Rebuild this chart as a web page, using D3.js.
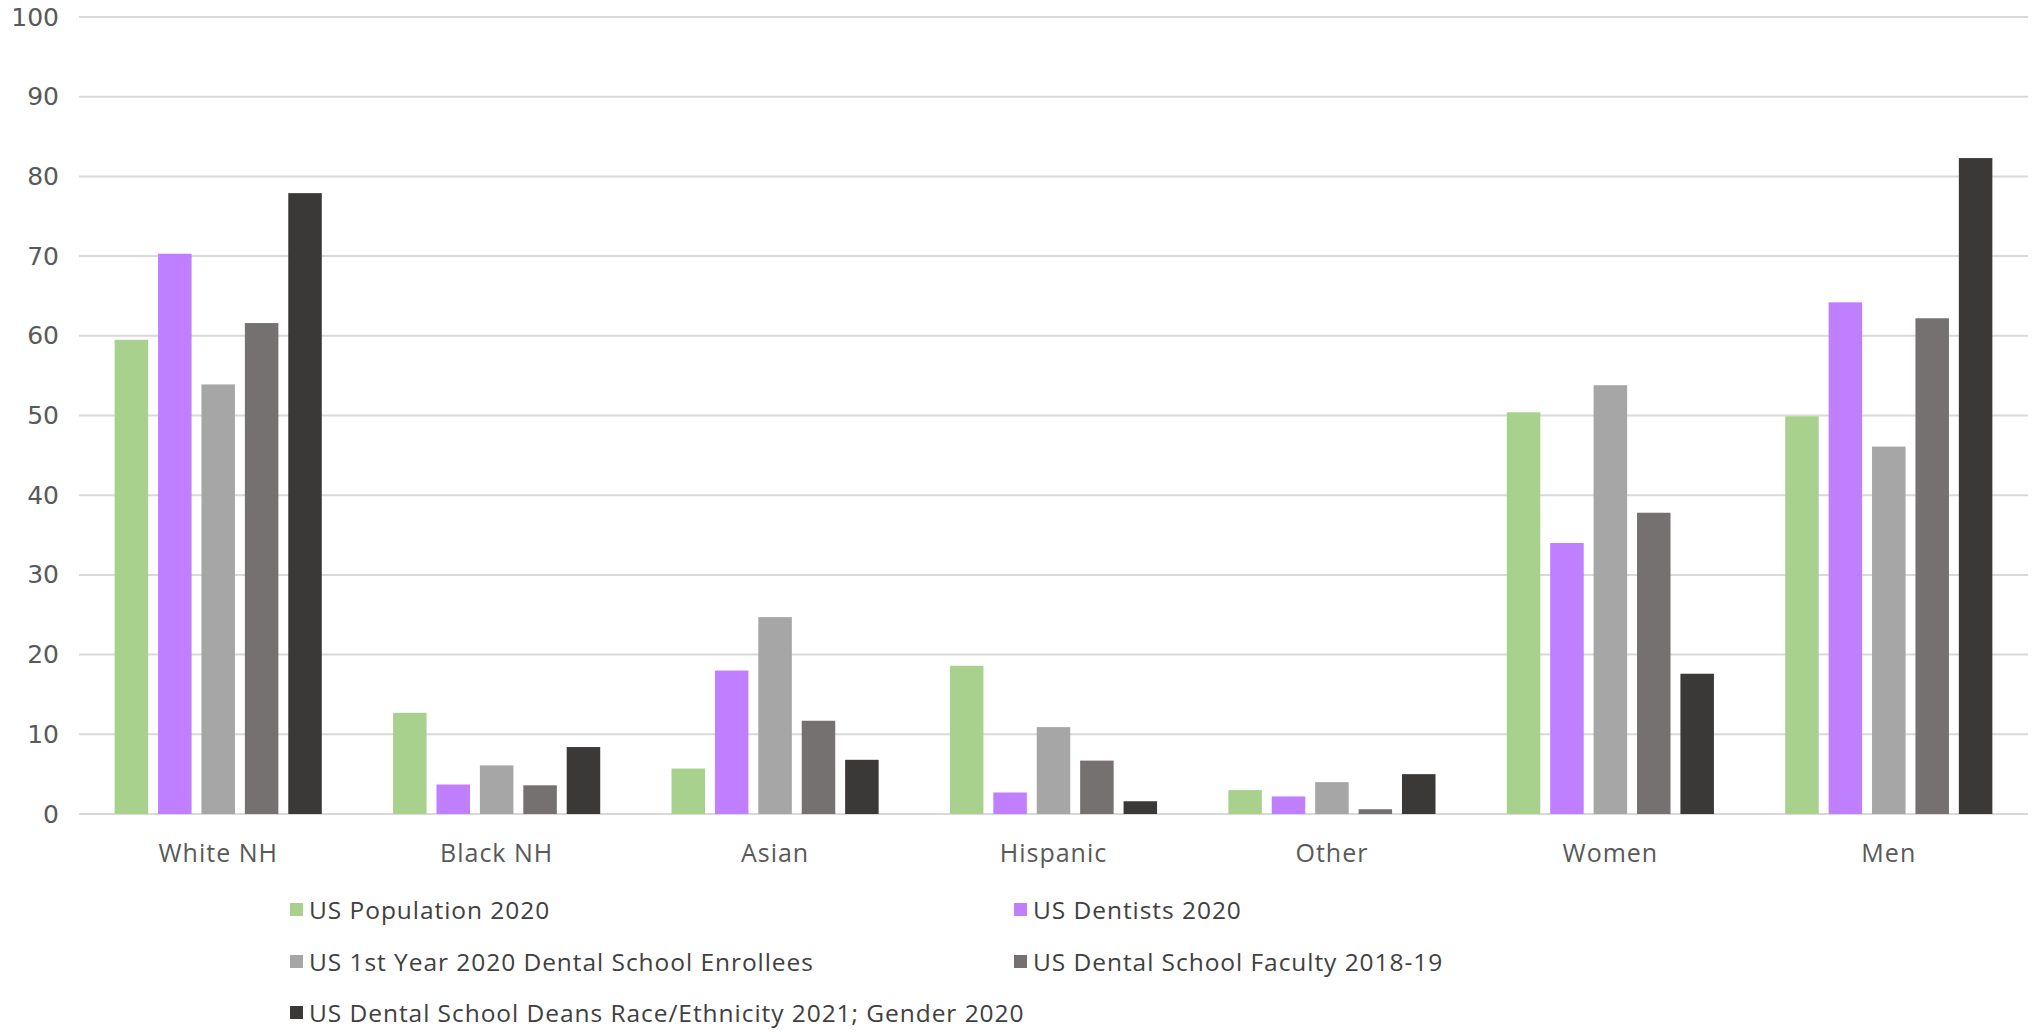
<!DOCTYPE html>
<html>
<head>
<meta charset="utf-8">
<script src="https://cdn.jsdelivr.net/npm/d3@7"></script>
<style>
  html, body { margin: 0; padding: 0; background: #ffffff; }
  svg { display: block; }
</style>
</head>
<body>
<svg id="chart" width="2036" height="1032"></svg>
<script>
const categories = ["White NH", "Black NH", "Asian", "Hispanic", "Other", "Women", "Men"];
const seriesNames = [
  "US Population 2020",
  "US Dentists 2020",
  "US 1st Year 2020 Dental School Enrollees",
  "US Dental School Faculty 2018-19",
  "US Dental School Deans Race/Ethnicity 2021; Gender 2020"
];
const usPopulation = [59.5, 12.7, 5.7, 18.6, 3.0, 50.4, 49.9];
const usDentists   = [70.3, 3.7, 18.0, 2.7, 2.2, 34.0, 64.2];
const enrollees    = [53.9, 6.1, 24.7, 10.9, 4.0, 53.8, 46.1];
const faculty      = [61.6, 3.6, 11.7, 6.7, 0.6, 37.8, 62.2];
const deans        = [77.9, 8.4, 6.8, 1.6, 5.0, 17.6, 82.3];
const yTicks = [0, 10, 20, 30, 40, 50, 60, 70, 80, 90, 100];
const seriesColors = ["#a9d18e", "#bf7fff", "#a6a6a6", "#767171", "#3b3838"];

const seriesValues = [usPopulation, usDentists, enrollees, faculty, deans];

(function () {
const svg = d3.select("#chart");
const pLeft = 79, pRight = 2028, pTop = 17, pBottom = 814;

const x0 = d3.scaleBand().domain(categories).range([pLeft, pRight]).paddingInner(0.256).paddingOuter(0.128);
const x1 = d3.scaleBand().domain(d3.range(seriesNames.length)).range([0, x0.bandwidth()]).paddingInner(0.228).paddingOuter(0);
const y = d3.scaleLinear().domain([0, 100]).range([pBottom, pTop]);

// gridlines
svg.append("g")
  .selectAll("line")
  .data(yTicks)
  .join("line")
  .attr("x1", pLeft).attr("x2", pRight)
  .attr("y1", d => y(d)).attr("y2", d => y(d))
  .attr("stroke", "#d9d9d9")
  .attr("stroke-width", 2);

// y axis labels
const yAxis = d3.axisLeft(y).tickValues(yTicks).tickSize(0).tickPadding(0);
const yg = svg.append("g").attr("transform", `translate(${pLeft - 20},0)`).call(yAxis);
yg.select(".domain").remove();
yg.selectAll("text")
  .attr("font-family", "DejaVu Sans, sans-serif")
  .attr("font-size", 25)
  .attr("fill", "#595959");

// bars
const rows = categories.map((c, i) => ({ cat: c, vals: seriesValues.map(s => s[i]) }));
svg.append("g")
  .selectAll("g")
  .data(rows)
  .join("g")
  .attr("transform", d => `translate(${x0(d.cat)},0)`)
  .selectAll("rect")
  .data(d => d.vals.map((v, k) => ({ k, v })))
  .join("rect")
  .attr("x", d => x1(d.k))
  .attr("width", x1.bandwidth())
  .attr("y", d => y(d.v))
  .attr("height", d => y(0) - y(d.v))
  .attr("fill", d => seriesColors[d.k]);

// x axis labels
const xAxis = d3.axisBottom(x0).tickSize(0).tickPadding(0);
const xg = svg.append("g").attr("transform", `translate(0,${pBottom + 30})`).call(xAxis);
xg.select(".domain").remove();
xg.selectAll("text")
  .attr("font-family", "Open Sans, sans-serif")
  .attr("font-size", 25)
  .attr("letter-spacing", 1)
  .attr("fill", "#595959");

// legend
const legendPos = [
  { x: 290, y: 910 }, { x: 1014, y: 910 },
  { x: 290, y: 962 }, { x: 1014, y: 962 },
  { x: 290, y: 1013 }
];
const lg = svg.append("g")
  .selectAll("g")
  .data(seriesNames)
  .join("g")
  .attr("transform", (d, i) => `translate(${legendPos[i].x},${legendPos[i].y})`);
lg.append("rect")
  .attr("x", 0).attr("y", -7)
  .attr("width", 13).attr("height", 13)
  .attr("fill", (d, i) => seriesColors[i]);
lg.append("text")
  .attr("x", 19).attr("y", 0)
  .attr("dy", "0.35em")
  .attr("font-family", "Open Sans, sans-serif")
  .attr("font-size", 24.5)
  .attr("letter-spacing", 0.95)
  .attr("fill", "#404040")
  .text(d => d);
})();
</script>
</body>
</html>
